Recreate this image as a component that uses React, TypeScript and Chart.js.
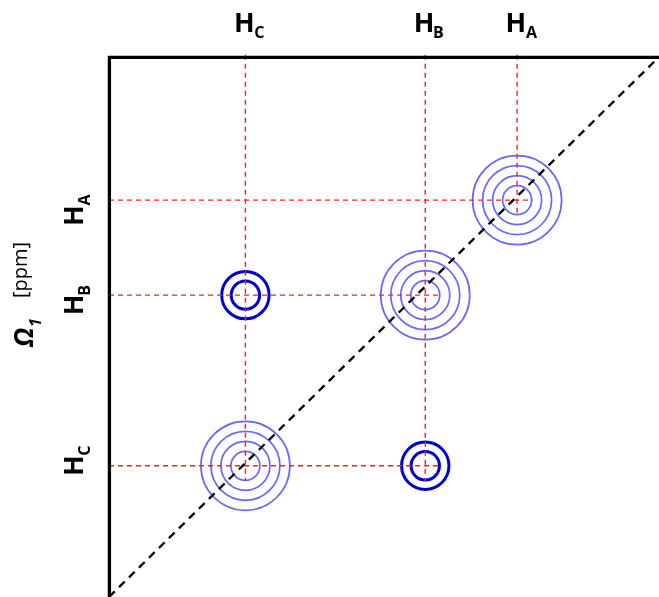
import React, { useEffect, useRef } from 'react';
import { Chart, registerables } from 'chart.js';

Chart.register(...registerables);

// Proton labels and their chemical shifts (ppm-like units) in each dimension
const protons = ['A', 'B', 'C'];
const shiftF2 = [7.42, 5.75, 2.48]; // horizontal (Ω2)
const shiftF1 = [7.35, 5.59, 2.43]; // vertical (Ω1)
// Coupling cross peaks: [F2 proton index, F1 proton index]
const couplings: [number, number][] = [
  [2, 1],
  [1, 2],
];
const axisMin = 0;
const axisMax = 10;

// ---- styling ----
const WIDTH = 659;
const HEIGHT = 597;
const LIGHT_BLUE = 'rgb(104,104,255)';
const DARK_BLUE = 'rgb(0,0,205)';
const GUIDE_RED = 'rgb(255,30,30)';
const DIAG_RINGS = [44.5, 34.5, 24.5, 14.5];
const CROSS_RINGS = [23.7, 14.2];
const GUIDE_OVERSHOOT = 0.28;
const LEFT_LABEL_NUDGE = [15.3, 9.5, -0.2];
const FONT = '"Open Sans", "Liberation Sans", sans-serif';

const diagPeaks = protons.map((_, i) => ({ x: shiftF2[i], y: shiftF1[i] }));
const crossPeaks = couplings.map(([a, b]) => ({ x: shiftF2[a], y: shiftF1[b] }));

function guideDatasets() {
  const sets: any[] = [];
  protons.forEach((_, i) => {
    const ys = [shiftF1[i], ...couplings.filter((c) => c[0] === i).map((c) => shiftF1[c[1]])];
    sets.push([
      { x: shiftF2[i], y: axisMax + 0.04 },
      { x: shiftF2[i], y: Math.min(...ys) - GUIDE_OVERSHOOT },
    ]);
  });
  protons.forEach((_, j) => {
    const xs = [shiftF2[j], ...couplings.filter((c) => c[1] === j).map((c) => shiftF2[c[0]])];
    sets.push([
      { x: axisMin, y: shiftF1[j] },
      { x: Math.max(...xs) + GUIDE_OVERSHOOT, y: shiftF1[j] },
    ]);
  });
  return sets.map((data) => ({
    data,
    showLine: true,
    pointRadius: 0,
    borderColor: GUIDE_RED,
    borderWidth: 1.4,
    borderDash: [5, 4],
    clip: false,
    order: 0,
  }));
}

function drawProtonLabel(
  ctx: CanvasRenderingContext2D,
  sub: string,
  along: number,
  baseline: number,
  rotated: boolean
) {
  ctx.save();
  if (rotated) {
    ctx.translate(baseline, along);
    ctx.rotate(-Math.PI / 2);
  } else {
    ctx.translate(along, baseline);
  }
  ctx.fillStyle = '#000';
  ctx.textAlign = 'left';
  ctx.textBaseline = 'alphabetic';
  ctx.font = `bold 27px ${FONT}`;
  const m = ctx.measureText('H');
  const x0 = -(m.actualBoundingBoxRight - m.actualBoundingBoxLeft) / 2;
  ctx.fillText('H', x0, 0);
  const inkRight = x0 + m.actualBoundingBoxRight;
  ctx.font = `bold 16px ${FONT}`;
  const ms = ctx.measureText(sub);
  ctx.fillText(sub, inkRight + 1.3 + ms.actualBoundingBoxLeft, 6.6);
  ctx.restore();
}

const framePlugin = {
  id: 'cosyFrame',
  afterDraw(chart: any) {
    const { ctx, chartArea: a, scales } = chart;
    ctx.save();
    // axes frame (left and top)
    ctx.strokeStyle = '#000';
    ctx.lineWidth = 3.3;
    ctx.lineCap = 'butt';
    ctx.lineJoin = 'miter';
    ctx.beginPath();
    ctx.moveTo(a.left + 0.4, HEIGHT);
    ctx.lineTo(a.left + 0.4, a.top + 0.3);
    ctx.lineTo(a.right, a.top + 0.3);
    ctx.stroke();
    ctx.restore();

    // proton labels along both axes
    protons.forEach((p, i) => {
      drawProtonLabel(ctx, p, scales.x.getPixelForValue(shiftF2[i]) - 1, 31.7, false);
      drawProtonLabel(
        ctx,
        p,
        scales.y.getPixelForValue(shiftF1[i]) + LEFT_LABEL_NUDGE[i],
        83.3,
        true
      );
    });

    // vertical axis title: Ω1 [ppm]
    ctx.save();
    ctx.fillStyle = '#000';
    ctx.textAlign = 'left';
    ctx.textBaseline = 'alphabetic';
    ctx.rotate(-Math.PI / 2);
    // rotated frame: x' = -y, y' = x
    ctx.font = `italic bold 26px ${FONT}`;
    ctx.fillText('Ω', -347, 33);
    ctx.font = `italic bold 16px ${FONT}`;
    ctx.fillText('1', -327, 40.5);
    ctx.font = `20px ${FONT}`;
    ctx.fillText('[ppm]', -298, 26.5);
    ctx.restore();
  },
};

export default function App() {
  const canvasRef = useRef<HTMLCanvasElement | null>(null);

  useEffect(() => {
    if (!canvasRef.current) return;
    const ringSet = (data: any[], r: number, color: string, w: number) => ({
      data,
      pointRadius: r,
      pointHoverRadius: r,
      pointStyle: 'circle',
      pointBackgroundColor: 'rgba(0,0,0,0)',
      pointBorderColor: color,
      pointBorderWidth: w,
      showLine: false,
      clip: false,
      order: 3,
    });
    const chart = new Chart(canvasRef.current, {
      type: 'scatter',
      data: {
        datasets: [
          ...DIAG_RINGS.map((r) => ringSet(diagPeaks, r, LIGHT_BLUE, 1.7)),
          ...CROSS_RINGS.map((r) => ringSet(crossPeaks, r, DARK_BLUE, 3)),
          {
            data: [
              { x: axisMin, y: axisMin },
              { x: axisMax, y: axisMax },
            ],
            showLine: true,
            pointRadius: 0,
            borderColor: '#000',
            borderWidth: 2.3,
            borderDash: [8, 6],
            clip: false,
            order: 1,
          },
          ...guideDatasets(),
        ] as any,
      },
      options: {
        animation: false,
        responsive: false,
        events: [],
        layout: { autoPadding: false, padding: { left: 109, top: 57, right: 0, bottom: 0 } },
        plugins: { legend: { display: false }, tooltip: { enabled: false } },
        scales: {
          x: { type: 'linear', min: axisMin, max: axisMax, display: false },
          y: { type: 'linear', min: axisMin, max: axisMax, display: false },
        },
      },
      plugins: [framePlugin],
    });
    return () => chart.destroy();
  }, []);

  return (
    <div style={{ position: 'absolute', left: 0, top: 0, width: WIDTH, height: HEIGHT, background: '#fff' }}>
      <canvas ref={canvasRef} width={WIDTH} height={HEIGHT} style={{ display: 'block' }} />
    </div>
  );
}
